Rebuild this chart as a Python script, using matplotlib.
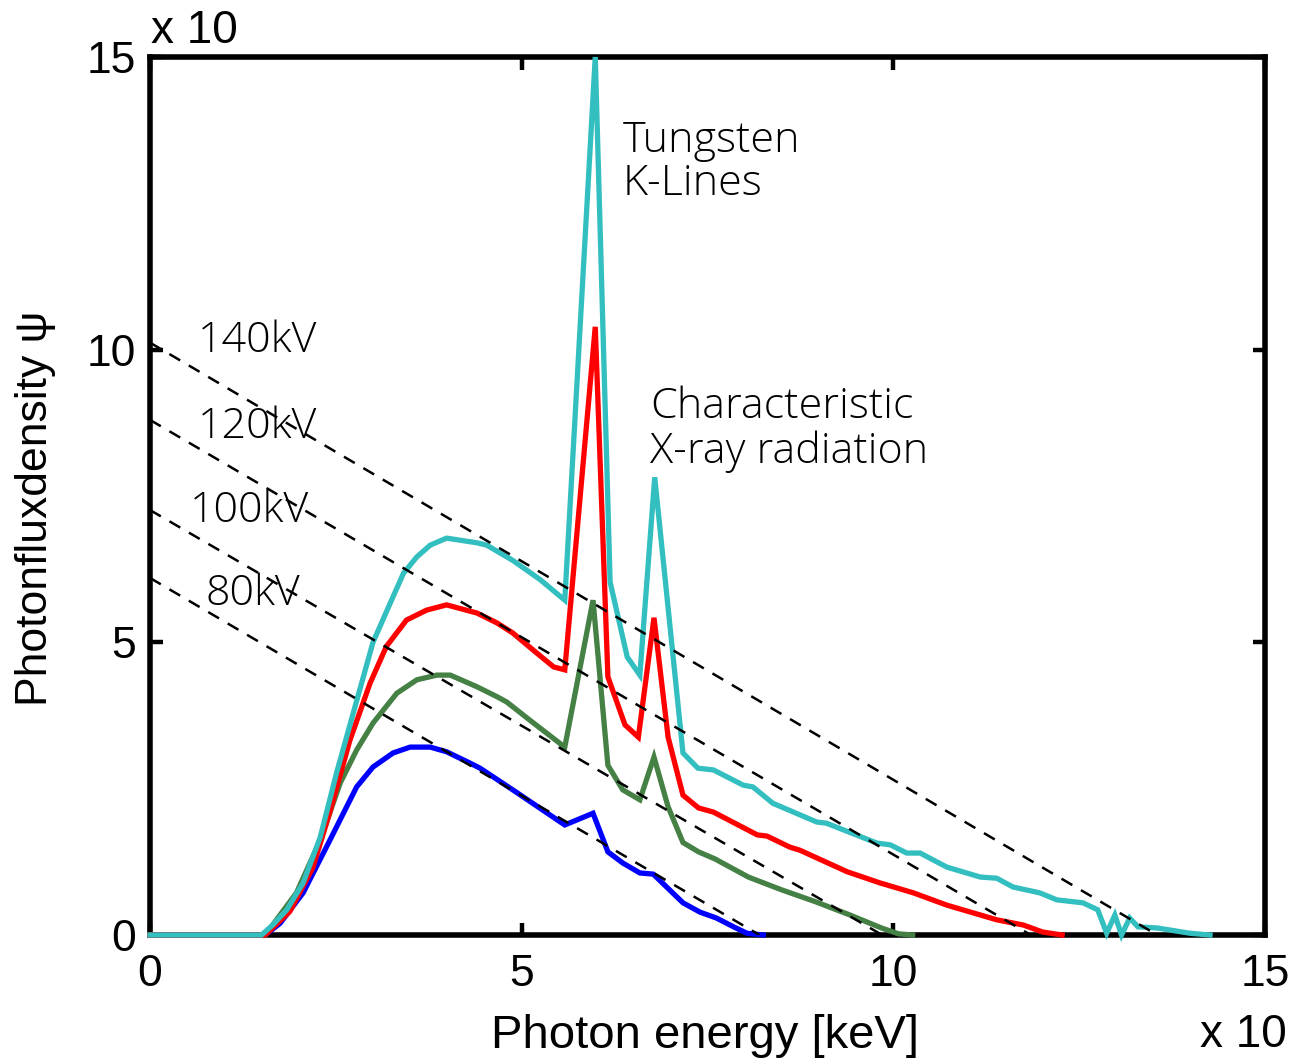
import matplotlib
matplotlib.use("Agg")
import matplotlib.pyplot as plt

# photon energy (x10 keV) and flux density (x10)
e_140 = [0, 1.5, 1.65, 1.84, 2.06, 2.29, 2.51, 2.78, 3.0, 3.19, 3.41, 3.59, 3.77, 3.99,
         4.4, 4.53, 4.88, 5.25, 5.58, 5.99, 6.19, 6.42, 6.59, 6.79, 7.17, 7.37, 7.58,
         7.98, 8.11, 8.38, 8.97, 9.1, 9.78, 9.96, 10.18, 10.36, 10.72, 11.17, 11.39,
         11.61, 11.97, 12.2, 12.55, 12.75, 12.87, 12.98, 13.07, 13.18, 13.29, 13.55,
         13.99, 14.26]
psi_140 = [0, 0, 0.17, 0.43, 0.89, 1.67, 2.77, 4.0, 5.0, 5.55, 6.18, 6.46, 6.66, 6.78,
           6.7, 6.66, 6.4, 6.07, 5.72, 15.0, 6.03, 4.75, 4.44, 7.82, 3.11, 2.85, 2.82,
           2.56, 2.53, 2.25, 1.93, 1.91, 1.57, 1.54, 1.40, 1.40, 1.16, 0.99, 0.97,
           0.82, 0.72, 0.6, 0.55, 0.43, 0.03, 0.34, 0.0, 0.29, 0.14, 0.12,
           0.03, 0.0]

e_120 = [0, 1.55, 1.88, 2.19, 2.42, 2.69, 2.96, 3.18, 3.45, 3.72, 3.99, 4.4, 4.67, 4.88,
         5.2, 5.43, 5.58, 5.99, 6.16, 6.39, 6.57, 6.78, 6.97, 7.17, 7.38, 7.58, 8.17,
         8.3, 8.61, 8.74, 9.38, 9.82, 10.27, 10.72, 11.39, 11.75, 12.01, 12.27]
psi_120 = [0, 0, 0.4, 1.15, 2.1, 3.33, 4.3, 4.93, 5.38, 5.55, 5.64, 5.5, 5.33, 5.16,
           4.82, 4.58, 4.53, 10.39, 4.41, 3.59, 3.38, 5.42, 3.38, 2.39, 2.17, 2.1, 1.71,
           1.69, 1.5, 1.45, 1.08, 0.89, 0.72, 0.51, 0.26, 0.17, 0.05, 0.0]

e_100 = [0, 1.55, 1.97, 2.29, 2.56, 2.78, 3.0, 3.32, 3.59, 3.86, 4.04, 4.4, 4.67, 4.8,
         5.11, 5.58, 5.96, 6.16, 6.36, 6.59, 6.78, 6.97, 7.17, 7.38, 7.6, 8.05, 8.5,
         8.95, 9.4, 9.84, 10.07, 10.26]
psi_100 = [0, 0, 0.72, 1.62, 2.6, 3.16, 3.62, 4.13, 4.36, 4.44, 4.44, 4.24, 4.07, 3.98,
           3.67, 3.21, 5.72, 2.9, 2.48, 2.31, 3.04, 2.19, 1.58, 1.42, 1.3, 0.99, 0.77,
           0.57, 0.35, 0.12, 0.02, 0.0]

e_80 = [0, 1.55, 1.75, 2.06, 2.42, 2.78, 3.0, 3.27, 3.5, 3.77, 3.99, 4.3, 4.44, 4.88,
        5.58, 5.96, 6.16, 6.36, 6.59, 6.77, 6.95, 7.17, 7.4, 7.62, 7.85, 8.03, 8.25]
psi_80 = [0, 0, 0.2, 0.72, 1.62, 2.53, 2.87, 3.11, 3.21, 3.21, 3.13, 2.94, 2.85, 2.48,
          1.88, 2.08, 1.42, 1.23, 1.06, 1.04, 0.82, 0.55, 0.39, 0.29, 0.14, 0.03, 0.0]

# Kramers lines: value at E=0 and the energy where they reach zero
kv_labels = ["80kV", "100kV", "120kV", "140kV"]
kramers_y0 = [6.1, 7.26, 8.8, 10.12]
kramers_end = [8.2, 9.85, 11.85, 13.55]
label_x = [0.74, 0.54, 0.65, 0.65]
label_y = [5.64, 7.06, 8.49, 9.96]

spectra = [(e_80, psi_80, "#0000ff"), (e_100, psi_100, "#458045"),
           (e_120, psi_120, "#ff0000"), (e_140, psi_140, "#33bfbf")]

fig = plt.figure(figsize=(12.95, 10.62), dpi=100)
ax = fig.add_axes([150 / 1295, 1 - 935 / 1062, 1115 / 1295, 878 / 1062])

for e, psi, col in spectra:
    ax.plot(e, psi, color=col, lw=3.8, zorder=3, clip_on=False, solid_joinstyle="miter")

for y0, x1 in zip(kramers_y0, kramers_end):
    ax.plot([0, x1], [y0, 0], color="black", lw=1.8, ls=(0, (5, 4)), zorder=4)

anno = dict(family=["Open Sans", "DejaVu Sans"], fontsize=31, color="black",
            fontweight="light")
for lab, x, y in zip(kv_labels, label_x, label_y):
    ax.text(x, y, lab, va="baseline", ha="left", **anno)

ax.text(6.36, 13.38, "Tungsten", va="baseline", **anno)
ax.text(6.36, 12.64, "K-Lines", va="baseline", **anno)
ax.text(6.73, 8.83, "Characteristic", va="baseline", **anno)
ax.text(6.73, 8.06, "X-ray radiation", va="baseline", **anno)

ax.set_xlim(0, 15)
ax.set_ylim(0, 15)
ax.set_xticks([0, 5, 10, 15])
ax.set_yticks([0, 5, 10, 15])
ax.tick_params(direction="in", length=9, width=3.2, top=True, right=True,
               labelsize=32, pad=10)
ax.tick_params(axis="x", pad=14)
for lbl in ax.get_xticklabels() + ax.get_yticklabels():
    lbl.set_family(["Liberation Sans", "DejaVu Sans"])
for sp in ax.spines.values():
    sp.set_linewidth(4)

sans = ["Liberation Sans", "DejaVu Sans"]
fig.text(705 / 1295, 1 - 1048 / 1062, "Photon energy [keV]", ha="center", va="baseline",
         fontsize=34, family=sans)
fig.text(36 / 1295, 1 - 508 / 1062, "Photonfluxdensity ψ", rotation=90, ha="center",
         va="center", fontsize=32, family=sans)
fig.text(151 / 1295, 1 - 43 / 1062, "x 10", ha="left", va="baseline", fontsize=33,
         family=sans)
fig.text(1200 / 1295, 1 - 1047 / 1062, "x 10", ha="left", va="baseline", fontsize=33,
         family=sans)

fig.savefig("out.png", dpi=100, facecolor="white")
